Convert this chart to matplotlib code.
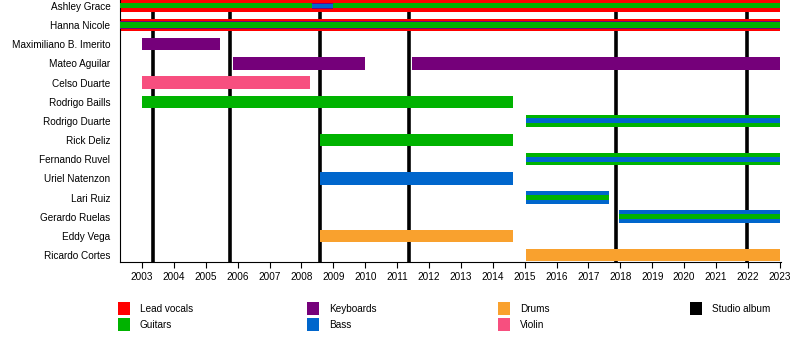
import matplotlib
matplotlib.use("Agg")
import matplotlib.pyplot as plt
from matplotlib.patches import Rectangle

plt.rcParams['font.family'] = ['Liberation Sans', 'DejaVu Sans']

# miembros (de arriba hacia abajo)
miembros = ["Ashley Grace", "Hanna Nicole", "Maximiliano B. Imerito", "Mateo Aguilar",
            "Celso Duarte", "Rodrigo Baills", "Rodrigo Duarte", "Rick Deliz",
            "Fernando Ruvel", "Uriel Natenzon", "Lari Ruiz", "Gerardo Ruelas",
            "Eddy Vega", "Ricardo Cortes"]

# colores de cada rol
roles = ["Lead vocals", "Guitars", "Keyboards", "Bass", "Drums", "Violin", "Studio album"]
colores = {"Lead vocals": "#ff0000", "Guitars": "#00b300", "Keyboards": "#75007a",
           "Bass": "#0066cc", "Drums": "#f9a12e", "Violin": "#f74f7f",
           "Studio album": "#000000"}

# periodos: (miembro, inicio, fin, roles por capa)
periodos = [
    ("Ashley Grace", 2002.31, 2023.0, ["Lead vocals", "Guitars"]),
    ("Ashley Grace", 2008.32, 2008.98, [None, "Keyboards", "Bass"]),
    ("Hanna Nicole", 2002.31, 2023.0, ["Lead vocals", "Keyboards", "Guitars"]),
    ("Maximiliano B. Imerito", 2003.0, 2005.45, ["Keyboards"]),
    ("Mateo Aguilar", 2005.85, 2010.0, ["Keyboards"]),
    ("Mateo Aguilar", 2011.48, 2023.0, ["Keyboards"]),
    ("Celso Duarte", 2003.0, 2008.26, ["Violin"]),
    ("Rodrigo Baills", 2003.0, 2014.64, ["Guitars"]),
    ("Rodrigo Duarte", 2015.05, 2023.0, ["Guitars", "Bass"]),
    ("Rick Deliz", 2008.57, 2014.64, ["Guitars"]),
    ("Fernando Ruvel", 2015.05, 2023.0, ["Guitars", "Bass"]),
    ("Uriel Natenzon", 2008.57, 2014.64, ["Bass"]),
    ("Lari Ruiz", 2015.05, 2017.65, ["Bass", "Guitars"]),
    ("Gerardo Ruelas", 2017.96, 2023.0, ["Bass", "Guitars"]),
    ("Eddy Vega", 2008.57, 2014.64, ["Drums"]),
    ("Ricardo Cortes", 2015.05, 2023.0, ["Drums"]),
]

albumes = [2003.34, 2005.75, 2008.57, 2011.36, 2017.87, 2021.97]
anios = list(range(2003, 2024))

fig = plt.figure(figsize=(8, 3.6), dpi=100)
ax = fig.add_axes([0.15, 0.272, 0.826, 0.728])

# lineas de albumes (detras de las barras)
for a in albumes:
    ax.axvline(a, color="black", lw=2.6, zorder=1)

alturas = {1: [0.65], 2: [0.65, 0.26], 3: [0.65, 0.44, 0.30]}
for nombre, ini, fin, capas in periodos:
    y = miembros.index(nombre)
    hs = alturas[len(capas)]
    for k, rol in enumerate(capas):
        if rol is None:
            continue
        h = hs[k] if capas[0] is not None else hs[k] * 0.8
        ax.barh(y, fin - ini, left=ini, height=h, color=colores[rol],
                zorder=2 + k, linewidth=0)

ax.set_xlim(2002.31, 2023.03)
ax.set_ylim(13.37, -0.31)
ax.set_yticks(range(len(miembros)))
ax.set_yticklabels(miembros, fontsize=7.2)
ax.tick_params(axis="y", length=0, pad=7)
ax.set_xticks(anios)
ax.set_xticklabels([str(a) for a in anios], fontsize=7.2)
ax.tick_params(axis="x", length=4, width=0.8, pad=3)
ax.spines["top"].set_visible(False)
ax.spines["right"].set_visible(False)

# leyenda manual
col_x = [118, 307, 498, 690]
fila_y = [308.5, 324.5]
for i, rol in enumerate(roles):
    c, f = divmod(i, 2)
    x0 = col_x[c]
    yc = fila_y[f]
    fig.add_artist(Rectangle((x0 / 800, 1 - (yc + 6.5) / 360), 12 / 800, 13 / 360,
                             transform=fig.transFigure, color=colores[rol], lw=0))
    fig.text((x0 + 22) / 800, 1 - yc / 360, rol, fontsize=7.2, va="center", ha="left")

fig.savefig("out.png", dpi=100)
